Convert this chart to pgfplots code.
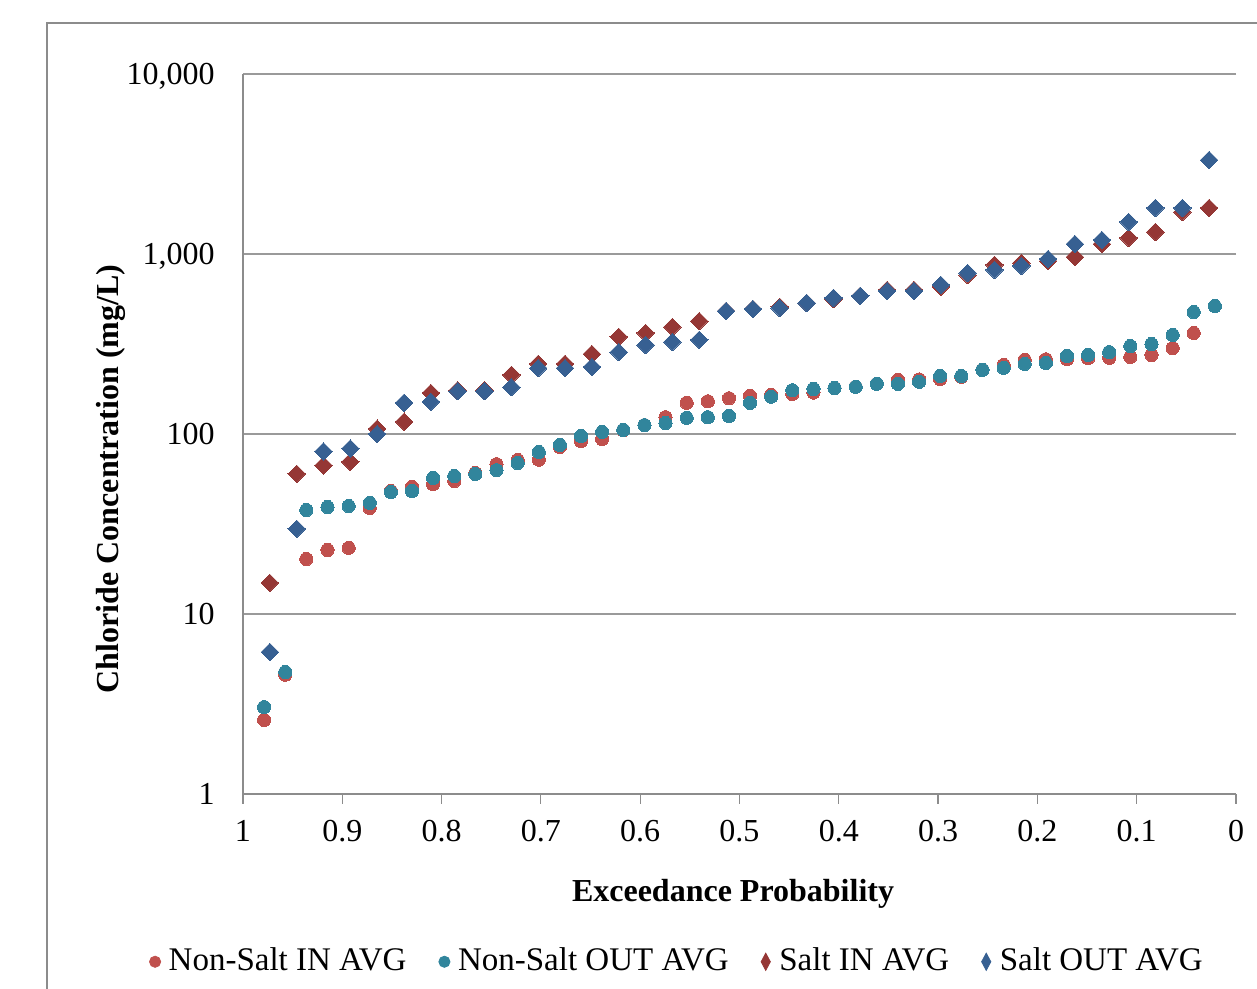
\documentclass[border=0pt]{standalone}
\usepackage{fontspec}
\setmainfont{Liberation Serif}
\usepackage{pgfplots}
\usepackage{pgfplotstable}
\pgfplotsset{compat=1.18}
\definecolor{nsin}{HTML}{C0504D}
\definecolor{nsout}{HTML}{31859C}
\definecolor{saltin}{HTML}{953735}
\definecolor{saltout}{HTML}{376092}
\definecolor{axisgray}{HTML}{8C8C8C}
\definecolor{gridgray}{HTML}{9A9A9A}

\pgfplotstableread{
x y
0.9787 2.58
0.9574 4.6
0.9362 20.2
0.9149 22.7
0.8936 23.3
0.8723 38.8
0.8511 48.2
0.8298 50.8
0.8085 52.7
0.7872 54.8
0.7660 60.7
0.7447 68
0.7234 71.7
0.7021 72
0.6809 84.7
0.6596 91.4
0.6383 93.8
0.6170 105
0.5957 112
0.5745 124
0.5532 149
0.5319 152
0.5106 158
0.4894 163
0.4681 165
0.4468 167
0.4255 170
0.4043 180
0.3830 183
0.3617 190
0.3404 200
0.3191 201
0.2979 202
0.2766 208
0.2553 227
0.2340 242
0.2128 258
0.1915 260
0.1702 261
0.1489 264
0.1277 265
0.1064 268
0.0851 275
0.0638 300
0.0426 364
}\nsintab

\pgfplotstableread{
x y
0.9787 3.04
0.9574 4.76
0.9362 37.8
0.9149 39.3
0.8936 39.8
0.8723 41.4
0.8511 47.6
0.8298 48.2
0.8085 57
0.7872 58.4
0.7660 60
0.7447 63
0.7234 69
0.7021 79.4
0.6809 86.9
0.6596 97.5
0.6383 102.6
0.6170 105.3
0.5957 112
0.5745 115
0.5532 123
0.5319 124
0.5106 126
0.4894 149
0.4681 161
0.4468 175
0.4255 178
0.4043 180
0.3830 183
0.3617 190
0.3404 190
0.3191 195
0.2979 210
0.2766 210
0.2553 227
0.2340 233
0.2128 245
0.1915 248
0.1702 271
0.1489 275
0.1277 285
0.1064 308
0.0851 316
0.0638 355
0.0426 476
0.0213 514
}\nsouttab

\pgfplotstableread{
x y
0.9730 14.9
0.9459 60
0.9189 67
0.8919 70
0.8649 107
0.8378 117
0.8108 169
0.7838 175
0.7568 175
0.7297 213
0.7027 245
0.6757 245
0.6486 278
0.6216 346
0.5946 364
0.5676 393
0.5405 424
0.5135 482
0.4865 495
0.4595 508
0.4324 534
0.4054 562
0.3784 585
0.3514 631
0.3243 631
0.2973 656
0.2703 764
0.2432 869
0.2162 891
0.1892 914
0.1622 962
0.1351 1136
0.1081 1228
0.0811 1324
0.0541 1711
0.0270 1801
}\saltintab

\pgfplotstableread{
x y
0.9730 6.15
0.9459 29.7
0.9189 80
0.8919 83
0.8649 100
0.8378 149
0.8108 151
0.7838 173
0.7568 173
0.7297 182
0.7027 232
0.6757 232
0.6486 236
0.6216 285
0.5946 312
0.5676 324
0.5405 333
0.5135 482
0.4865 495
0.4595 501
0.4324 534
0.4054 570
0.3784 585
0.3514 623
0.3243 623
0.2973 673
0.2703 784
0.2432 815
0.2162 858
0.1892 938
0.1622 1136
0.1351 1197
0.1081 1506
0.0811 1801
0.0541 1801
0.0270 3327
}\saltouttab

\begin{document}
\fontsize{16}{19}\selectfont
\begin{tikzpicture}[x=1pt,y=1pt]
\path[use as bounding box] (-121.5,-97.5) rectangle (507,397);
\draw[axisgray, line width=1pt] (-98,-130) -- (-98,385.5) -- (540,385.5);
\begin{axis}[
  scale only axis, width=496.5pt, height=360pt,
  xmin=0, xmax=1, x dir=reverse,
  ymode=log, ymin=1, ymax=10000,
  axis line style={draw=none},
  xtick={0,0.1,0.2,0.3,0.4,0.5,0.6,0.7,0.8,0.9,1},
  xticklabels={0,0.1,0.2,0.3,0.4,0.5,0.6,0.7,0.8,0.9,1},
  ytick={1,10,100,1000,10000},
  yticklabels={1,10,100,{1,000},{10,000}},
  xtick pos=left,
  tick align=outside,
  major tick length=5pt,
  xtick style={axisgray, line width=0.6pt},
  ytick style={draw=none},
  minor tick num=0,
  ymajorgrids, grid style={gridgray, line width=0.6pt},
  yminorgrids=false,
  tick label style={font=\fontsize{16}{19}\selectfont},
  xticklabel style={anchor=center, inner sep=0pt, text depth=0pt, yshift=-13.5pt},
  yticklabel style={anchor=east, inner sep=0pt, text depth=0pt, xshift=-9pt},
  ylabel={\bfseries Chloride Concentration (mg/L)},
  xlabel={\bfseries Exceedance Probability},
  every axis y label/.style={at={(axis description cs:-0.133,0.4375)}, anchor=center, rotate=90, font=\fontsize{16}{19}\selectfont},
  every axis x label/.style={at={(axis description cs:0.4935,-0.1389)}, anchor=center, font=\fontsize{16}{19}\selectfont},
  legend style={at={(axis description cs:0.438,-0.233)}, anchor=center, draw=none, fill=none,
    legend columns=4, font=\fontsize{16.5}{19.5}\selectfont,
    /tikz/every even column/.append style={column sep=14pt}},
  legend cell align=left,
  clip=false,
]
\addlegendimage{legend image code/.code={\fill[nsin] (0pt,0pt) circle[radius=2.8pt]; \path[draw=none,fill=none] (0pt,0pt) -- (4.8pt,0pt);}}
\addlegendimage{legend image code/.code={\fill[nsout] (0pt,0pt) circle[radius=2.8pt]; \path[draw=none,fill=none] (0pt,0pt) -- (4.8pt,0pt);}}
\addlegendimage{legend image code/.code={\fill[saltin] (0pt,-4.3pt) -- (2.3pt,0pt) -- (0pt,4.3pt) -- (-2.3pt,0pt) -- cycle; \path[draw=none,fill=none] (0pt,0pt) -- (4.8pt,0pt);}}
\addlegendimage{legend image code/.code={\fill[saltout] (0pt,-4.3pt) -- (2.3pt,0pt) -- (0pt,4.3pt) -- (-2.3pt,0pt) -- cycle; \path[draw=none,fill=none] (0pt,0pt) -- (4.8pt,0pt);}}
\legend{Non-Salt IN AVG, Non-Salt OUT AVG, Salt IN AVG, Salt OUT AVG}
\addplot[forget plot, only marks, color=nsin, mark=*, mark size=3.3pt, mark options={draw=nsin, fill=nsin, line width=0pt}] table[x=x,y=y] {\nsintab};
\addplot[forget plot, only marks, color=nsout, mark=*, mark size=3.3pt, mark options={draw=nsout, fill=nsout, line width=0pt}] table[x=x,y=y] {\nsouttab};
\addplot[forget plot, only marks, color=saltin, mark=square*, mark size=3.1pt, mark options={draw=saltin, fill=saltin, line width=0pt, rotate=45}] table[x=x,y=y] {\saltintab};
\addplot[forget plot, only marks, color=saltout, mark=square*, mark size=3.1pt, mark options={draw=saltout, fill=saltout, line width=0pt, rotate=45}] table[x=x,y=y] {\saltouttab};
\end{axis}
\draw[axisgray, line width=0.6pt] (0,0) -- (496.5,0);
\draw[axisgray, line width=0.6pt] (0,0) -- (0,360);
\end{tikzpicture}
\end{document}
